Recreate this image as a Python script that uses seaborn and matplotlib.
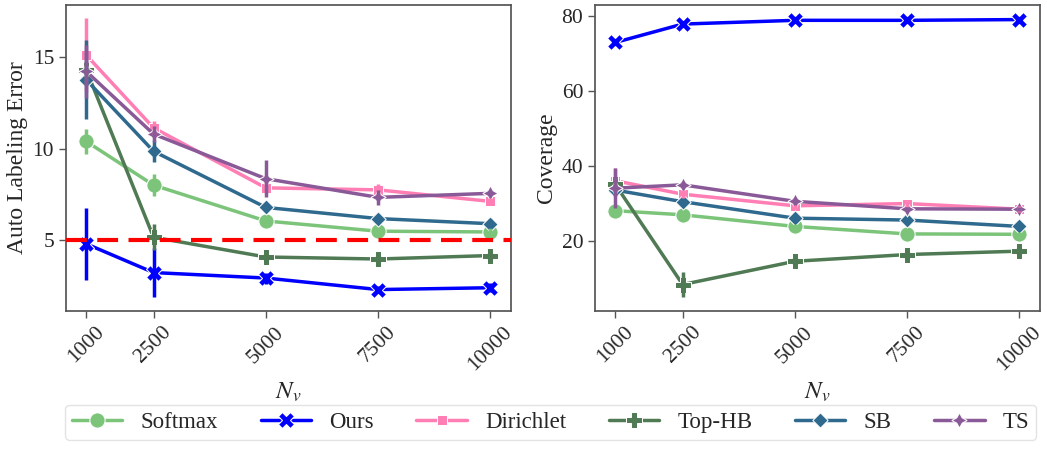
import numpy as np
import pandas as pd
import matplotlib
matplotlib.use("Agg")
import matplotlib.pyplot as plt
import seaborn as sns

# Validation set sizes
n_val = [1000, 2500, 5000, 7500, 10000]
methods = ["Softmax", "Ours", "Dirichlet", "Top-HB", "SB", "TS"]
colors = ["#7cc47a", "#0000ff", "#ff7eb4", "#4f7a53", "#2f6a8e", "#8a5a98"]

# Auto labeling error (mean, +/- spread)
err_mean = {
    "Softmax":   [10.41, 8.02, 6.06, 5.50, 5.46],
    "Ours":      [4.81, 3.24, 2.94, 2.31, 2.41],
    "Dirichlet": [15.13, 11.15, 7.87, 7.76, 7.13],
    "Top-HB":    [14.33, 5.17, 4.09, 3.98, 4.17],
    "SB":        [13.78, 9.87, 6.80, 6.19, 5.91],
    "TS":        [14.24, 10.81, 8.37, 7.35, 7.57],
}
err_spread = {
    "Softmax":   [0.68, 0.60, 0.20, 0.20, 0.20],
    "Ours":      [1.95, 1.35, 0.30, 0.20, 0.25],
    "Dirichlet": [2.00, 0.40, 0.30, 0.30, 0.20],
    "Top-HB":    [0.50, 0.70, 0.40, 0.30, 0.30],
    "SB":        [2.17, 0.60, 0.20, 0.20, 0.25],
    "TS":        [1.45, 0.45, 1.00, 0.40, 0.15],
}

# Coverage (mean, +/- spread)
cov_mean = {
    "Softmax":   [28.1, 27.0, 23.9, 21.9, 21.8],
    "Ours":      [73.0, 77.9, 78.9, 78.9, 79.1],
    "Dirichlet": [36.1, 32.5, 29.4, 30.0, 28.5],
    "Top-HB":    [35.1, 8.4, 14.6, 16.4, 17.3],
    "SB":        [33.6, 30.5, 26.1, 25.6, 23.9],
    "TS":        [34.1, 35.0, 30.6, 28.6, 28.5],
}
cov_spread = {
    "Softmax":   [1.0, 0.8, 0.6, 0.5, 0.5],
    "Ours":      [0.8, 0.5, 0.3, 0.3, 0.3],
    "Dirichlet": [3.5, 1.0, 0.8, 0.8, 0.8],
    "Top-HB":    [1.5, 3.4, 1.0, 0.8, 0.8],
    "SB":        [1.5, 0.8, 0.6, 0.6, 0.6],
    "TS":        [5.4, 0.8, 1.0, 0.6, 0.6],
}

error_threshold = 5

sns.set_theme(style="white")
plt.rcParams["font.family"] = ["Liberation Serif", "DejaVu Serif"]
plt.rcParams["mathtext.fontset"] = "stix"
plt.rcParams["axes.edgecolor"] = "#555555"


def long_frame(means):
    rows = []
    for m in methods:
        for x, v in zip(n_val, means[m]):
            rows.append({"N": x, "value": v, "method": m})
    return pd.DataFrame(rows)


palette = dict(zip(methods, colors))

fig, axes = plt.subplots(1, 2, figsize=(10.47, 4.51), dpi=100)
fig.subplots_adjust(left=0.063, right=0.993, top=0.99, bottom=0.31, wspace=0.19)

panels = [
    (axes[0], err_mean, err_spread, "Auto Labeling Error"),
    (axes[1], cov_mean, cov_spread, "Coverage"),
]
for ax, means, spreads, ylabel in panels:
    df = long_frame(means)
    sns.lineplot(data=df, x="N", y="value", hue="method", style="method",
                 hue_order=methods, style_order=methods, palette=palette,
                 markers=True, dashes=False, linewidth=2.5, markersize=11,
                 ax=ax, legend=True)
    for m in methods:
        ax.errorbar(n_val, means[m], yerr=spreads[m], fmt="none",
                    ecolor=palette[m], elinewidth=2.5, capsize=0, zorder=2.5)
    ax.set_xticks(n_val)
    ax.set_xticklabels([str(v) for v in n_val], rotation=45, fontsize=15.5)
    ax.tick_params(axis="y", labelsize=15.5)
    ax.tick_params(axis="both", which="major", length=5, width=1,
                   bottom=True, left=True, color="#555555")
    ax.set_xlabel("$N_v$", fontsize=18, labelpad=4)
    ax.set_ylabel(ylabel, fontsize=17, labelpad=3)

axes[0].axhline(error_threshold, color="red", linestyle="--", linewidth=3,
                dashes=(5, 2.5), zorder=5)
axes[0].set_yticks([5, 10, 15])
axes[1].set_yticks([20, 40, 60, 80])

handles, labels = axes[0].get_legend_handles_labels()
for ax in axes:
    ax.get_legend().remove()
leg = fig.legend(handles, labels, loc="lower center", ncol=6,
                 bbox_to_anchor=(0.526, 0.0), fontsize=16.5, frameon=True,
                 handlelength=2.2, columnspacing=1.85, borderpad=0.3)
leg.get_frame().set_edgecolor("#dddddd")

fig.savefig("out.png", dpi=100)
